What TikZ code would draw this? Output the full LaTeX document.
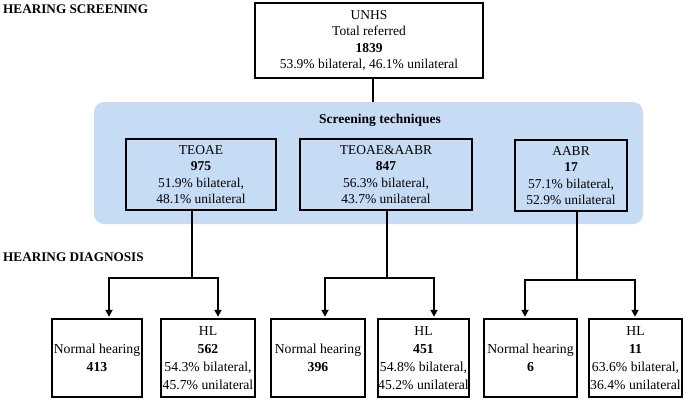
\documentclass[tikz,border=0pt]{standalone}
\usepackage{fontspec}
\setmainfont{Liberation Serif}
\usetikzlibrary{arrows.meta}
\definecolor{bgblue}{RGB}{198,220,245}
\tikzset{
 box/.style={draw=black, line width=2.4pt, align=center, inner sep=0pt, font=\fontsize{13.5}{16.5}\selectfont},
 leaf/.style={box, fill=white, font=\fontsize{13.7}{18}\selectfont, minimum height=78pt},
 conn/.style={line width=2pt},
 arr/.style={conn, -{Triangle[length=7pt,width=7pt]}, shorten >=1pt},
 heading/.style={font=\fontsize{13.2}{15}\selectfont\bfseries, anchor=west, inner sep=0pt}
}
\begin{document}
\begin{tikzpicture}[x=1pt,y=-1pt]
\useasboundingbox (0,0) rectangle (685,400);
\node[heading] (hs) at (3,9) {HEARING SCREENING};
\node[heading] (hd) at (3,257) {HEARING DIAGNOSIS};
\node[box, minimum width=228pt, minimum height=75pt] (top) at (369,40.5) {UNHS\\Total referred\\\textbf{1839}\\53.9\% bilateral, 46.1\% unilateral};
\node[fill=bgblue, rounded corners=10pt, minimum width=549pt, minimum height=122pt, inner sep=0pt] (bg) at (368.5,163) {};
\node[font=\fontsize{13.5}{16}\selectfont\bfseries, inner sep=0pt] (st) at (380,120) {Screening techniques};
\node[box, minimum width=150pt, minimum height=71pt] (t1) at (201,174.5) {TEOAE\\\textbf{975}\\51.9\% bilateral,\\48.1\% unilateral};
\node[box, minimum width=172pt, minimum height=71pt] (t2) at (386,174.5) {TEOAE\&AABR\\\textbf{847}\\56.3\% bilateral,\\43.7\% unilateral};
\node[box, minimum width=112pt, minimum height=71pt] (t3) at (571,175.5) {AABR\\\textbf{17}\\57.1\% bilateral,\\52.9\% unilateral};
\node[leaf, minimum width=90pt] (n1) at (97,358) {Normal hearing\\\textbf{413}};
\node[leaf, minimum width=94pt] (l1) at (208,358) {HL\\\textbf{562}\\54.3\% bilateral,\\45.7\% unilateral};
\node[leaf, minimum width=94pt] (n2) at (318,358) {Normal hearing\\\textbf{396}};
\node[leaf, minimum width=91pt] (l2) at (423.5,358) {HL\\\textbf{451}\\54.8\% bilateral,\\45.2\% unilateral};
\node[leaf, minimum width=93pt] (n3) at (530.5,358) {Normal hearing\\\textbf{6}};
\node[leaf, minimum width=93pt] (l3) at (635.5,358) {HL\\\textbf{11}\\63.6\% bilateral,\\36.4\% unilateral};
\draw[conn] ([xshift=4pt]top.south) -- ([xshift=4pt]top.south |- bg.north);
\coordinate (j1) at (192,278);
\coordinate (j2) at (387,278);
\coordinate (j3) at (577,280);
\coordinate (a1) at (109,278);
\coordinate (b1) at (218,278);
\coordinate (a2) at (325,278);
\coordinate (b2) at (434,278);
\coordinate (a3) at (525,280);
\coordinate (b3) at (635,280);
\draw[conn] (t1.south -| j1) -- (j1);
\draw[conn] (t2.south -| j2) -- (j2);
\draw[conn] (t3.south -| j3) -- (j3);
\draw[arr] (j1) -| (n1.north -| a1);
\draw[arr] (j1) -| (l1.north -| b1);
\draw[arr] (j2) -| (n2.north -| a2);
\draw[arr] (j2) -| (l2.north -| b2);
\draw[arr] (j3) -| (n3.north -| a3);
\draw[arr] (j3) -| (l3.north -| b3);
\end{tikzpicture}
\end{document}
